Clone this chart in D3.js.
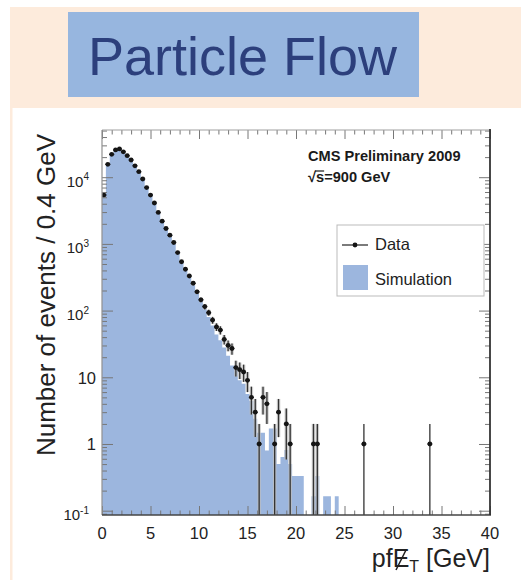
<!DOCTYPE html>
<html><head><meta charset="utf-8">
<script src="https://cdn.jsdelivr.net/npm/d3@7"></script>
<style>
body{margin:0;background:#fff;}
svg{display:block;font-family:"Liberation Sans",Arial,Helvetica,sans-serif;}
</style>
</head><body>
<svg id="c" width="521" height="580"></svg>
<script>
// ---- data (bin width 0.4 GeV, 100 bins from 0 to 40 GeV) ----
const binWidth = 0.4;
const dataCounts = [
  5400,15600,22000,25600,26500,24000,21000,18100,14800,12100,
  9400,7000,5400,4100,2960,2190,1700,1350,1050,740,
  540,417,330,257,191,145,115,93,72,57,
  51,37,30,27,14,13,12,9,5,3,
  1,5,4,0,1,3,0,2,1,0,
  0,0,0,0,1,1,0,0,0,0,
  0,0,0,0,0,0,0,1,0,0,
  0,0,0,0,0,0,0,0,0,0,
  0,0,0,0,1,0,0,0,0,0,
  0,0,0,0,0,0,0,0,0,0
];
const simCounts = [
  5200,15200,22500,26000,26500,24500,21000,18000,14800,12000,
  9300,7000,5300,4000,2900,2150,1650,1300,1000,720,
  520,400,310,240,180,140,105,80,60,44,
  36,28,21,15,13,9,8,5.6,4.4,2.4,
  1.48,1.48,0.8,1.7,1.7,0.5,0.64,0.81,0.5,0.33,
  0.33,0.33,0,0,0.165,0.33,0,0.165,0.165,0,
  0.165,0,0,0,0,0,0,0,0,0,
  0,0,0,0,0,0,0,0,0,0,
  0,0,0,0,0,0,0,0,0,0,
  0,0,0,0,0,0,0,0,0,0
];
const xTickValues = [0,5,10,15,20,25,30,35,40];
const yTickValues = [0.1,1,10,100,1000,10000];
const yTickBase = ["10","1","10","10","10","10"];
const yTickExp  = ["-1","","","2","3","4"];
const yDomain = [0.08618, 51000];
const xDomain = [0, 40];
const titleText = "Particle Flow";
const yTitle = "Number of events / 0.4 GeV";
const legendLabels = ["Data","Simulation"];
const cmsText = ["CMS Preliminary 2009", "\u221As=900 GeV"];

// ---- layout ----
const L = 102, R = 490, T = 130, B = 515;
const blue = "#9cb6de";
const svg = d3.select("#c");

// background pieces
svg.append("rect").attr("x",10).attr("y",7).attr("width",511).attr("height",101).attr("fill","#fdebdc");
svg.append("rect").attr("x",10).attr("y",107).attr("width",2.5).attr("height",473).attr("fill","#fdebdc");
svg.append("rect").attr("x",68).attr("y",12).attr("width",351).attr("height",85).attr("fill","#97b6df");
svg.append("text").attr("x",88).attr("y",75).attr("font-size",54).attr("fill","#2c3f7c").text(titleText);

const x = d3.scaleLinear().domain(xDomain).range([L, R]);
const y = d3.scaleLog().domain(yDomain).range([B, T]);

const plot = svg.append("g");
plot.append("defs").append("clipPath").attr("id","clip")
  .append("rect").attr("x",L).attr("y",T).attr("width",R-L).attr("height",B-T);
const g = plot.append("g").attr("clip-path","url(#clip)");

// simulation step histogram
const simPts = simCounts.map((v,i)=>({x:i*binWidth, v}));
simPts.push({x:simCounts.length*binWidth, v:0});
const area = d3.area().curve(d3.curveStepAfter)
  .x(d=>x(d.x)).y0(B).y1(d=> d.v>0 ? y(d.v) : B);
g.append("path").datum(simPts).attr("d",area).attr("fill",blue);

// data with errors
const dataPts = dataCounts.map((v,i)=>({c:(i+0.5)*binWidth, v, i})).filter(d=>d.v>0);
const bw = x(binWidth)-x(0);
g.selectAll("rect.band").data(dataPts.filter(d=>d.c<24)).enter().append("rect")
  .attr("x",d=>x(d.c)-bw/2+0.2).attr("width",bw-0.4)
  .attr("y",d=>y(d.v+Math.sqrt(d.v)))
  .attr("height",d=>{const lo=d.v-Math.sqrt(d.v); return (lo>0?y(lo):B)-y(d.v+Math.sqrt(d.v));})
  .attr("fill","#bdbdbd").attr("opacity",0.75);
g.selectAll("line.ey").data(dataPts).enter().append("line")
  .attr("x1",d=>x(d.c)).attr("x2",d=>x(d.c))
  .attr("y1",d=>y(d.v+Math.sqrt(d.v)))
  .attr("y2",d=>{const lo=d.v-Math.sqrt(d.v); return lo>0?y(lo):B+2;})
  .attr("stroke","#333").attr("stroke-width",1.3);
g.selectAll("line.ex").data(dataPts).enter().append("line")
  .attr("x1",d=>x(d.c-binWidth/2)-0.5).attr("x2",d=>x(d.c+binWidth/2)+0.5)
  .attr("y1",d=>y(d.v)).attr("y2",d=>y(d.v))
  .attr("stroke","#222").attr("stroke-width",1.4);
g.selectAll("circle.m").data(dataPts).enter().append("circle")
  .attr("cx",d=>x(d.c)).attr("cy",d=>y(d.v)).attr("r",2.4).attr("fill","#151515");

// ---- axes ----
const xMinor = d3.range(0,41,1).filter(v=>v%5!==0);
const axB = svg.append("g").attr("transform",`translate(0,${B})`);
axB.call(d3.axisBottom(x).tickValues(xTickValues).tickSize(-9).tickPadding(0).tickFormat(""));
axB.append("g").call(d3.axisBottom(x).tickValues(xMinor).tickSize(-4.5).tickFormat(""));
axB.selectAll(".domain").remove();
const axT = svg.append("g").attr("transform",`translate(0,${T})`);
axT.call(d3.axisTop(x).tickValues(xTickValues).tickSize(-9).tickFormat(""));
axT.append("g").call(d3.axisTop(x).tickValues(xMinor).tickSize(-4.5).tickFormat(""));
axT.selectAll(".domain").remove();

const yMinor = [];
[-2,-1,0,1,2,3,4].forEach(e=>{for(let k=2;k<=9;k++){const v=k*Math.pow(10,e); if(v>yDomain[0]&&v<yDomain[1]) yMinor.push(v);}});
const axL = svg.append("g").attr("transform",`translate(${L},0)`);
axL.call(d3.axisLeft(y).tickValues(yTickValues).tickSize(-11).tickFormat(""));
axL.append("g").call(d3.axisLeft(y).tickValues(yMinor).tickSize(-5).tickFormat(""));
axL.selectAll(".domain").remove();
const axR = svg.append("g").attr("transform",`translate(${R},0)`);
axR.call(d3.axisRight(y).tickValues(yTickValues).tickSize(-11).tickFormat(""));
axR.append("g").call(d3.axisRight(y).tickValues(yMinor).tickSize(-5).tickFormat(""));
axR.selectAll(".domain").remove();
svg.selectAll(".tick line").attr("stroke","#777").attr("stroke-width",1);

// frame
svg.append("line").attr("x1",L).attr("x2",R).attr("y1",T).attr("y2",T).attr("stroke","#a0a0a0").attr("stroke-width",1.2);
svg.append("line").attr("x1",L).attr("x2",L).attr("y1",T).attr("y2",B).attr("stroke","#909090").attr("stroke-width",1.2);
svg.append("line").attr("x1",L).attr("x2",R+1).attr("y1",B).attr("y2",B).attr("stroke","#444").attr("stroke-width",1.6);
svg.append("line").attr("x1",R).attr("x2",R).attr("y1",T-1).attr("y2",B).attr("stroke","#333").attr("stroke-width",1.8);

// tick labels
svg.append("g").selectAll("text").data(xTickValues).enter().append("text")
  .attr("x",d=>x(d)).attr("y",539).attr("text-anchor","middle")
  .attr("font-size",16.5).attr("fill","#222").text(d=>d);
yTickValues.forEach((v,i)=>{
  const ty = y(v);
  if(yTickExp[i]===""){
    svg.append("text").attr("x",96).attr("y",ty+6.5).attr("text-anchor","end")
      .attr("font-size",16.5).attr("fill","#222").text(yTickBase[i]);
  } else {
    const t = svg.append("text").attr("x",89).attr("y",ty+9.5).attr("text-anchor","end")
      .attr("fill","#222");
    t.append("tspan").attr("font-size",15).text(yTickBase[i]);
    t.append("tspan").attr("font-size",10).attr("dy",-6.5).text(yTickExp[i]);
  }
});

// y title
svg.append("text").attr("transform","translate(55,295) rotate(-90)")
  .attr("text-anchor","middle").attr("font-size",25).attr("fill","#222")
  .attr("textLength",322).attr("lengthAdjust","spacingAndGlyphs").text(yTitle);

// x title: pf E-slash_T [GeV]
const xt = svg.append("text").attr("x",490).attr("y",567).attr("text-anchor","end")
  .attr("font-size",25).attr("fill","#222");
xt.append("tspan").text("pf");
xt.append("tspan").text("E");
xt.append("tspan").attr("font-size",16).attr("dy",5).text("T");
xt.append("tspan").attr("dy",-5).text(" [GeV]");
const eb = xt.node().getExtentOfChar(2);
svg.append("line").attr("x1",eb.x+eb.width*0.2).attr("y1",567+3)
  .attr("x2",eb.x+eb.width*0.8).attr("y2",567-17)
  .attr("stroke","#222").attr("stroke-width",1.5);

// CMS text
svg.append("text").attr("x",308).attr("y",160.5).attr("font-size",14.6).attr("font-weight","bold")
  .attr("fill","#1a1a1a").text(cmsText[0]);
const st = svg.append("text").attr("x",308).attr("y",182).attr("font-size",14.6).attr("font-weight","bold")
  .attr("fill","#1a1a1a").text(cmsText[1]);
const sExt = st.node().getExtentOfChar(1);
svg.append("line").attr("x1",sExt.x-1).attr("x2",sExt.x+sExt.width)
  .attr("y1",sExt.y+2).attr("y2",sExt.y+2).attr("stroke","#1a1a1a").attr("stroke-width",1.2);

// legend
svg.append("rect").attr("x",337).attr("y",225).attr("width",147).attr("height",71)
  .attr("fill","#fff").attr("stroke","#bbb").attr("stroke-width",1);
svg.append("line").attr("x1",342).attr("x2",368).attr("y1",245).attr("y2",245).attr("stroke","#333").attr("stroke-width",1.3);
svg.append("circle").attr("cx",355).attr("cy",245).attr("r",2.4).attr("fill","#151515");
svg.append("text").attr("x",375).attr("y",249.5).attr("font-size",16.5).attr("fill","#222").text(legendLabels[0]);
svg.append("rect").attr("x",343).attr("y",265).attr("width",25).attr("height",25).attr("fill",blue);
svg.append("text").attr("x",375).attr("y",285).attr("font-size",16.5).attr("fill","#222").text(legendLabels[1]);
</script>
</body></html>
